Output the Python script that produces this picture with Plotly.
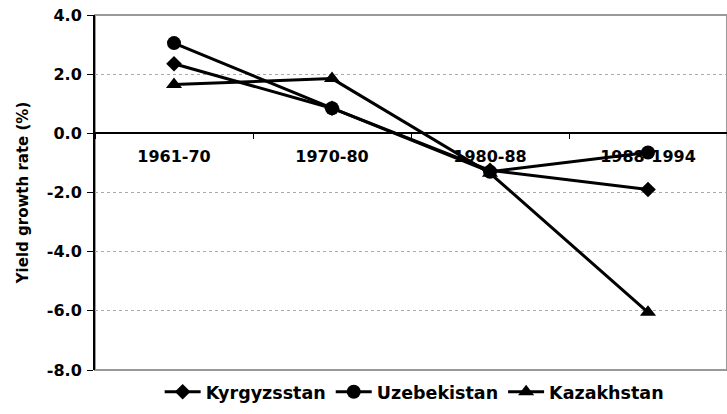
import plotly.graph_objects as go

periods = ["1961-70", "1970-80", "1980-88", "1988-1994"]
kyrgyzstan = [2.35, 0.85, -1.25, -1.9]
uzbekistan = [3.05, 0.85, -1.3, -0.65]
kazakhstan = [1.65, 1.85, -1.35, -6.05]

y_min, y_max = -8, 4
y_ticks = list(range(y_min, y_max + 1, 2))

series = [
    ("Kyrgyzsstan", kyrgyzstan, "diamond", 12),
    ("Uzebekistan", uzbekistan, "circle", 14),
    ("Kazakhstan", kazakhstan, "triangle-up", 14),
]

bold = dict(family="DejaVu Sans, sans-serif", size=16, weight="bold", color="black")

fig = go.Figure()
for name, vals, symbol, size in series:
    fig.add_trace(
        go.Scatter(
            x=periods,
            y=vals,
            name=name,
            mode="lines+markers",
            line=dict(color="black", width=3),
            marker=dict(symbol=symbol, size=size, color="black"),
        )
    )

# grey frame around the plot area
fig.add_shape(
    type="rect", xref="paper", yref="paper", x0=0, x1=1, y0=0, y1=1,
    line=dict(color="#999999", width=2), layer="below",
)

fig.update_layout(
    width=727,
    height=414,
    margin=dict(l=95, r=0, t=15, b=44, autoexpand=False),
    paper_bgcolor="white",
    plot_bgcolor="white",
    font=bold,
    showlegend=True,
    legend=dict(
        orientation="h", x=0.505, xanchor="center",
        yref="container", y=0.097, yanchor="top",
        font=dict(bold, size=17.5), itemwidth=36,
    ),
    xaxis=dict(
        type="category",
        range=[-0.5, 3.5],
        anchor="free",
        position=(0 - y_min) / (y_max - y_min),
        showline=True, linecolor="black", linewidth=2,
        ticks="outside", tickson="boundaries", ticklen=5, tickcolor="black",
        showgrid=False, zeroline=False,
        tickfont=bold,
        ticklabelstandoff=8,
        layer="below traces",
    ),
    yaxis=dict(
        range=[y_min, y_max],
        tickvals=y_ticks,
        ticktext=[f"{v:.1f}" for v in y_ticks],
        showline=True, linecolor="black", linewidth=2,
        ticks="outside", ticklen=6, tickcolor="black",
        showgrid=True, gridcolor="#aaaaaa", griddash="dot", gridwidth=1,
        zeroline=False,
        tickfont=bold,
        ticklabelstandoff=2,
        title=dict(text="Yield growth rate (%)", font=dict(bold, size=15), standoff=15),
    ),
)

fig.write_html(
    "out.html",
    config={"displayModeBar": False},
    post_script="document.body.style.margin='0';",
)
